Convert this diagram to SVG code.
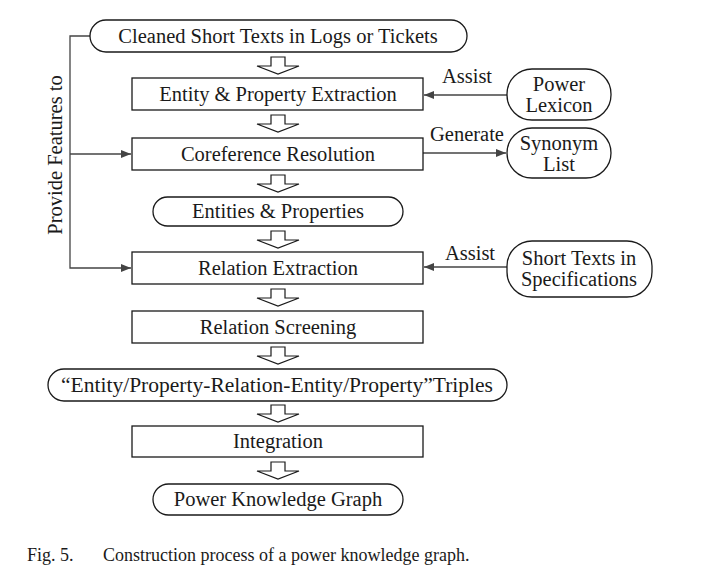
<svg xmlns="http://www.w3.org/2000/svg" width="710" height="578" viewBox="0 0 710 578">
<defs>
<style>
text{font-family:"Liberation Serif","Times New Roman",serif;font-size:20.5px;fill:#1a1a1a;text-anchor:middle}
.box{fill:#fff;stroke:#1a1a1a;stroke-width:1.3}
.ln{fill:none;stroke:#444;stroke-width:1.3}
.hollow{fill:#fff;stroke:#1a1a1a;stroke-width:1.2;stroke-linejoin:miter}
.cap{font-size:18px;text-anchor:start}
</style>
<marker id="ah" viewBox="0 0 10 10" refX="10" refY="5" markerWidth="10" markerHeight="10" markerUnits="userSpaceOnUse" orient="auto">
<path d="M0,1 L10,5 L0,9 Z" fill="#444"/>
</marker>
<path id="ha" d="M-7,0 H7 V9 H21 L0,17 L-21,9 H-7 Z"/>
</defs>
<rect width="710" height="578" fill="#fff"/>

<g id="connectors">
<path class="ln" d="M90,36 H70 V268 H131" marker-end="url(#ah)"/>
<path class="ln" d="M70,154 H131" marker-end="url(#ah)"/>
<path class="ln" d="M507,95 H424" marker-end="url(#ah)"/>
<path class="ln" d="M423,153 H506" marker-end="url(#ah)"/>
<path class="ln" d="M507,267 H424" marker-end="url(#ah)"/>
<text x="467" y="83">Assist</text>
<text x="467" y="141">Generate</text>
<text x="470" y="260">Assist</text>
<text transform="translate(62,155) rotate(-90)">Provide Features to</text>
<g class="hollow">
<use href="#ha" x="278" y="57"/>
<use href="#ha" x="278" y="115"/>
<use href="#ha" x="278" y="175"/>
<use href="#ha" x="278" y="231"/>
<use href="#ha" x="278" y="289"/>
<use href="#ha" x="278" y="347"/>
<use href="#ha" x="278" y="405"/>
<use href="#ha" x="278" y="462"/>
</g>
</g>

<g id="n1"><rect class="box" x="90" y="20" width="377" height="32" rx="16"/><text x="278" y="43">Cleaned Short Texts in Logs or Tickets</text></g>
<g id="n2"><rect class="box" x="132" y="78" width="291" height="32"/><text x="278" y="101">Entity &amp; Property Extraction</text></g>
<g id="n3"><rect class="box" x="132" y="138" width="291" height="32"/><text x="278" y="161">Coreference Resolution</text></g>
<g id="n4"><rect class="box" x="153" y="197" width="250" height="29" rx="14.5"/><text x="278" y="218">Entities &amp; Properties</text></g>
<g id="n5"><rect class="box" x="132" y="252" width="291" height="32"/><text x="278" y="275">Relation Extraction</text></g>
<g id="n6"><rect class="box" x="132" y="311" width="291" height="32"/><text x="278" y="334">Relation Screening</text></g>
<g id="n7"><rect class="box" x="48" y="369" width="459" height="32" rx="16"/><text x="277" y="392" textLength="432" lengthAdjust="spacingAndGlyphs">“Entity/Property-Relation-Entity/Property”Triples</text></g>
<g id="n8"><rect class="box" x="132" y="426" width="291" height="31"/><text x="278" y="448">Integration</text></g>
<g id="n9"><rect class="box" x="153" y="484" width="250" height="31" rx="15.5"/><text x="278" y="506">Power Knowledge Graph</text></g>
<g id="n10"><rect class="box" x="507" y="69" width="104" height="51" rx="25"/><text x="559" y="91">Power</text><text x="559" y="112">Lexicon</text></g>
<g id="n11"><rect class="box" x="507" y="128" width="104" height="50" rx="25"/><text x="559" y="150">Synonym</text><text x="559" y="171">List</text></g>
<g id="n12"><rect class="box" x="507" y="241" width="145" height="56" rx="25"/><text x="579" y="265">Short Texts in</text><text x="579" y="286">Specifications</text></g>

<text class="cap" x="27" y="561">Fig. 5.<tspan x="103">Construction process of a power knowledge graph.</tspan></text>
</svg>
